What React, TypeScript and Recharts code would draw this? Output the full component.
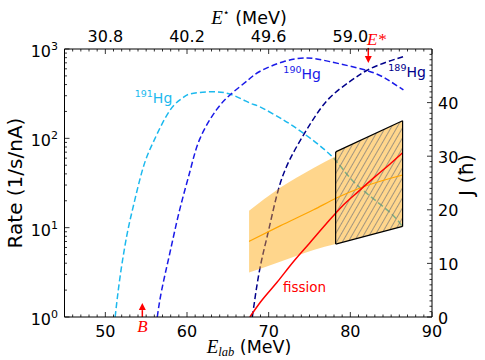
import React from 'react';
import { ComposedChart, Line, Area, XAxis, YAxis, ReferenceLine, ReferenceDot } from 'recharts';

const SANS = "'DejaVu Sans', sans-serif";
const SERIF = "'Liberation Serif', 'DejaVu Serif', serif";

// ---------- data ----------
const HG191_E = [51.2, 51.8, 52.6, 53.4, 54.6, 55.9, 57.9, 59.5, 60.4, 62.8, 65.4, 67.7, 68.9, 71.8, 74.2, 77.8, 80.5, 84.5, 86.4];
const HG191_RATE = [1, 2.8, 7.9, 17, 46, 92, 205, 285, 315, 332, 310, 248, 226, 161, 115, 62, 32, 15.8, 10.2];

const HG190_E = [56.36, 56.9, 57.9, 59.1, 60.4, 61.6, 63.6, 65.5, 67.5, 68.9, 71.8, 74.7, 77.5, 82.0, 84.5, 86.5];
const HG190_RATE = [1, 2.0, 5.2, 15.8, 44, 100, 208, 320, 451, 560, 720, 794, 722, 575, 457, 348];

const HG189_E = [68.0, 68.9, 70.0, 71.4, 73.2, 75.2, 77.4, 80.0, 82.0, 84.3, 86.5];
const HG189_RATE = [1, 3.4, 9.4, 31, 74, 150, 280, 436, 575, 707, 822];

const FISSION_E = [67.7, 69, 71, 73, 75, 77, 79, 81, 83, 85, 86.4];
const FISSION_RATE = [1, 1.47, 2.43, 4.13, 6.7, 10.9, 17.4, 25.5, 37, 53, 69];

const JLINE_E = [67.6, 71.4, 75.5, 78.3, 81.6, 86.4];
const JLINE_J = [14.1, 17.0, 20.0, 22.2, 24.3, 26.5];

const BAND_E = [67.6, 71.4, 75.5, 78.2];
const BAND_LO = [8.3, 10.3, 12.5, 13.6];
const BAND_HI = [19.8, 24.1, 27.8, 30.0];

const BOX_E = [78.2, 86.4];
const BOX_LO = [13.6, 16.9];
const BOX_HI = [30.8, 36.6];

// tick labels
const ELAB_MAJOR = [50, 60, 70, 80, 90];
const ESTAR_AT = [50, 60, 70, 80];
const ESTAR_LABELS = ['30.8', '40.2', '49.6', '59.0'];
const J_MAJOR = [0, 10, 20, 30, 40];

// annotations (data coordinates)
const B_E = 54.53;
const ESTAR_E = 82.2;

// ---------- helpers ----------
const zip = (xs: number[], ys: any[]) => xs.map((e, i) => ({ e, v: ys[i] }));
const d191 = zip(HG191_E, HG191_RATE);
const d190 = zip(HG190_E, HG190_RATE);
const d189 = zip(HG189_E, HG189_RATE);
const dFis = zip(FISSION_E, FISSION_RATE);
const dJ = zip(JLINE_E, JLINE_J);
const dBand = zip(BAND_E, BAND_LO.map((lo, i) => [lo, BAND_HI[i]]));
const dBox = zip(BOX_E, BOX_LO.map((lo, i) => [lo, BOX_HI[i]]));

const X_TICKS: number[] = [];
for (let v = 45; v <= 90; v++) X_TICKS.push(v);
const RATE_TICKS: number[] = [];
for (let k = 0; k < 3; k++) for (let m = 1; m < 10; m++) RATE_TICKS.push(m * Math.pow(10, k));
RATE_TICKS.push(1000);
const J_TICKS: number[] = [];
for (let v = 0; v < 50; v++) J_TICKS.push(v);

const C191 = '#1cb9ee';
const C190 = '#1a1ae8';
const C189 = '#00008b';
const CFIS = '#ff0000';
const CORANGE = '#ffa500';

const TICK_FONT = 16;

const BottomTick = (p: any) => {
  const { x, y, payload } = p;
  const v = payload.value;
  const major = ELAB_MAJOR.includes(v);
  return (
    <g>
      <line x1={x} x2={x} y1={y} y2={y - (major ? 5 : 2.5)} stroke="#000" strokeWidth={0.8} />
      {major && (
        <text x={x} y={y + 20} textAnchor="middle" fontSize={TICK_FONT} fontFamily={SANS} fill="#000">
          {String(v)}
        </text>
      )}
    </g>
  );
};

const TopTick = (p: any) => {
  const { x, y, payload } = p;
  const v = payload.value;
  const idx = ESTAR_AT.indexOf(v);
  const major = v % 10 === 0;
  return (
    <g>
      <line x1={x} x2={x} y1={y} y2={y + (major ? 5 : 2.5)} stroke="#000" strokeWidth={0.8} />
      {idx >= 0 && (
        <text x={x} y={y - 7.5} textAnchor="middle" fontSize={TICK_FONT} fontFamily={SANS} fill="#000">
          {ESTAR_LABELS[idx]}
        </text>
      )}
    </g>
  );
};

const LeftTick = (p: any) => {
  const { x, y, payload } = p;
  const v = payload.value;
  const ex = Math.log10(v);
  const major = Math.abs(ex - Math.round(ex)) < 1e-9;
  return (
    <g>
      <line x1={x} x2={x + (major ? 5 : 2.5)} y1={y} y2={y} stroke="#000" strokeWidth={0.8} />
      {major && (
        <text x={x - 6.5} y={y + 8} textAnchor="end" fontSize={TICK_FONT} fontFamily={SANS} fill="#000">
          10
          <tspan dy={-7} fontSize={11}>{String(Math.round(ex))}</tspan>
        </text>
      )}
    </g>
  );
};

const RightTick = (p: any) => {
  const { x, y, payload } = p;
  const v = payload.value;
  const major = J_MAJOR.includes(v);
  return (
    <g>
      <line x1={x} x2={x - (major ? 5 : 2.5)} y1={y} y2={y} stroke="#000" strokeWidth={0.8} />
      {major && (
        <text x={x + 6} y={y + 6.5} textAnchor="start" fontSize={TICK_FONT} fontFamily={SANS} fill="#000">
          {String(v)}
        </text>
      )}
    </g>
  );
};

const Arrow = (p: any) => {
  const { x1, y1, x2, y2 } = p;
  const dir = y2 > y1 ? 1 : -1;
  const hb = y2 - dir * 7;
  return (
    <g>
      <line x1={x1} y1={y1} x2={x2} y2={hb} stroke={CFIS} strokeWidth={1.5} />
      <polygon points={`${x2 - 3.5},${hb} ${x2 + 3.5},${hb} ${x2},${y2}`} fill={CFIS} />
    </g>
  );
};

const isoLabel = (sup: string, color: string) => (p: any) => (
  <text x={p.cx} y={p.cy} fontFamily={SANS} fontSize={14} fill={color}>
    <tspan fontSize={9.5} dy={-6}>{sup}</tspan>
    <tspan dy={6}>Hg</tspan>
  </text>
);

const fissionLabel = (p: any) => (
  <text x={p.cx} y={p.cy} fontFamily={SANS} fontSize={13.5} fill={CFIS}>fission</text>
);
const bLabel = (p: any) => (
  <text x={p.cx} y={p.cy} fontFamily={SERIF} fontStyle="italic" fontSize={17} fill={CFIS} textAnchor="middle">B</text>
);
const eStarLabel = (p: any) => (
  <text x={p.cx} y={p.cy} fontFamily={SERIF} fontStyle="italic" fontSize={17} fill={CFIS} textAnchor="start">E*</text>
);

export default function App() {
  return (
    <div style={{ position: 'absolute', left: 0, top: 0, width: 485, height: 360, background: '#fff' }}>
      <ComposedChart width={485} height={360} margin={{ top: 19, right: 0, bottom: 13, left: 0 }}>
        <defs>
          <pattern id="hatch" patternUnits="userSpaceOnUse" width="5" height="5" patternTransform="rotate(30)">
            <rect x="0" y="0" width="5" height="5" fill={CORANGE} fillOpacity={0.45} />
            <line x1="2.5" y1="0" x2="2.5" y2="5" stroke="#7a7a7a" strokeWidth={0.7} />
          </pattern>
        </defs>
        <XAxis
          xAxisId="bottom"
          dataKey="e"
          type="number"
          domain={[45, 90]}
          allowDataOverflow
          ticks={X_TICKS}
          interval={0}
          tickSize={0}
          tickMargin={0}
          tickLine={false}
          tick={BottomTick}
          height={30}
          axisLine={{ stroke: '#000', strokeWidth: 1 }}
        />
        <XAxis
          xAxisId="top"
          orientation="top"
          dataKey="e"
          type="number"
          domain={[45, 90]}
          allowDataOverflow
          ticks={X_TICKS}
          interval={0}
          tickSize={0}
          tickMargin={0}
          tickLine={false}
          tick={TopTick}
          height={30}
          axisLine={{ stroke: '#000', strokeWidth: 1 }}
        />
        <YAxis
          yAxisId="left"
          type="number"
          scale="log"
          domain={[1, 1000]}
          allowDataOverflow
          ticks={RATE_TICKS}
          interval={0}
          tickSize={0}
          tickMargin={0}
          tickLine={false}
          tick={LeftTick}
          width={64.5}
          axisLine={{ stroke: '#000', strokeWidth: 1 }}
        />
        <YAxis
          yAxisId="right"
          orientation="right"
          type="number"
          domain={[0, 50]}
          allowDataOverflow
          ticks={J_TICKS}
          interval={0}
          tickSize={0}
          tickMargin={0}
          tickLine={false}
          tick={RightTick}
          width={53}
          axisLine={{ stroke: '#000', strokeWidth: 1 }}
        />

        <Line xAxisId="bottom" yAxisId="left" data={d191} dataKey="v" type="natural" stroke={C191} strokeWidth={1.5} strokeDasharray="6 3" dot={false} activeDot={false} isAnimationActive={false} zIndex={400} />
        <Line xAxisId="bottom" yAxisId="left" data={d190} dataKey="v" type="natural" stroke={C190} strokeWidth={1.5} strokeDasharray="6 3" dot={false} activeDot={false} isAnimationActive={false} zIndex={400} />
        <Line xAxisId="bottom" yAxisId="left" data={d189} dataKey="v" type="natural" stroke={C189} strokeWidth={1.5} strokeDasharray="6 3" dot={false} activeDot={false} isAnimationActive={false} zIndex={400} />

        <Area xAxisId="bottom" yAxisId="right" data={dBand} dataKey="v" type="monotone" stroke="none" fill={CORANGE} fillOpacity={0.45} isAnimationActive={false} dot={false} activeDot={false} zIndex={410} />
        <Area xAxisId="bottom" yAxisId="right" data={dBox} dataKey="v" type="linear" stroke="#000" strokeWidth={1.2} fill="url(#hatch)" fillOpacity={1} isAnimationActive={false} dot={false} activeDot={false} zIndex={420} />

        <Line xAxisId="bottom" yAxisId="right" data={dJ} dataKey="v" type="monotone" stroke={CORANGE} strokeWidth={1.2} dot={false} activeDot={false} isAnimationActive={false} zIndex={430} />
        <Line xAxisId="bottom" yAxisId="left" data={dFis} dataKey="v" type="monotone" stroke={CFIS} strokeWidth={1.5} dot={false} activeDot={false} isAnimationActive={false} zIndex={440} />

        <ReferenceLine xAxisId="bottom" yAxisId="right" segment={[{ x: BOX_E[0], y: BOX_LO[0] }, { x: BOX_E[0], y: BOX_HI[0] }]} stroke="#000" strokeWidth={1.2} ifOverflow="visible" zIndex={450} />
        <ReferenceLine xAxisId="bottom" yAxisId="right" segment={[{ x: BOX_E[1], y: BOX_LO[1] }, { x: BOX_E[1], y: BOX_HI[1] }]} stroke="#000" strokeWidth={1.2} ifOverflow="visible" zIndex={450} />

        <ReferenceLine xAxisId="bottom" yAxisId="left" segment={[{ x: B_E, y: 1 }, { x: B_E, y: 1.43 }]} ifOverflow="visible" shape={Arrow} zIndex={460} />
        <ReferenceLine xAxisId="bottom" yAxisId="left" segment={[{ x: ESTAR_E, y: 1028 }, { x: ESTAR_E, y: 699 }]} ifOverflow="visible" shape={Arrow} zIndex={460} />

        <ReferenceDot xAxisId="bottom" yAxisId="left" x={53.6} y={247} r={0} ifOverflow="visible" shape={isoLabel('191', C191)} zIndex={470} />
        <ReferenceDot xAxisId="bottom" yAxisId="left" x={71.8} y={462} r={0} ifOverflow="visible" shape={isoLabel('190', C190)} zIndex={470} />
        <ReferenceDot xAxisId="bottom" yAxisId="left" x={84.65} y={491} r={0} ifOverflow="visible" shape={isoLabel('189', C189)} zIndex={470} />
        <ReferenceDot xAxisId="bottom" yAxisId="left" x={71.76} y={1.9} r={0} ifOverflow="visible" shape={fissionLabel} zIndex={470} />
        <ReferenceDot xAxisId="bottom" yAxisId="left" x={B_E} y={0.68} r={0} ifOverflow="visible" shape={bLabel} zIndex={470} />
        <ReferenceDot xAxisId="bottom" yAxisId="left" x={82.05} y={1111} r={0} ifOverflow="visible" shape={eStarLabel} zIndex={470} />
      </ComposedChart>

      <svg width={485} height={360} style={{ position: 'absolute', left: 0, top: 0, pointerEvents: 'none' }}>
        <text x={249} y={353} textAnchor="middle" fontFamily={SANS} fontSize={17.5} fill="#000">
          <tspan fontFamily={SERIF} fontStyle="italic" fontSize={19}>E</tspan>
          <tspan fontFamily={SERIF} fontStyle="italic" fontSize={12.5} dy={3}>lab</tspan>
          <tspan dy={-3}>{' (MeV)'}</tspan>
        </text>
        <text x={249} y={24} textAnchor="middle" fontFamily={SANS} fontSize={17.5} fill="#000">
          <tspan fontFamily={SERIF} fontStyle="italic" fontSize={19}>E</tspan>
          <tspan fontSize={11} dy={-8}>{'\u22C6'}</tspan>
          <tspan dy={8}>{'  (MeV)'}</tspan>
        </text>
        <text transform="translate(22,183) rotate(-90)" textAnchor="middle" fontFamily={SANS} fontSize={20} fill="#000">
          Rate (1/s/nA)
        </text>
        <text transform="translate(473,175) rotate(-90)" textAnchor="middle" fontFamily={SANS} fontSize={20} fill="#000">
          J (ħ)
        </text>
      </svg>
    </div>
  );
}
